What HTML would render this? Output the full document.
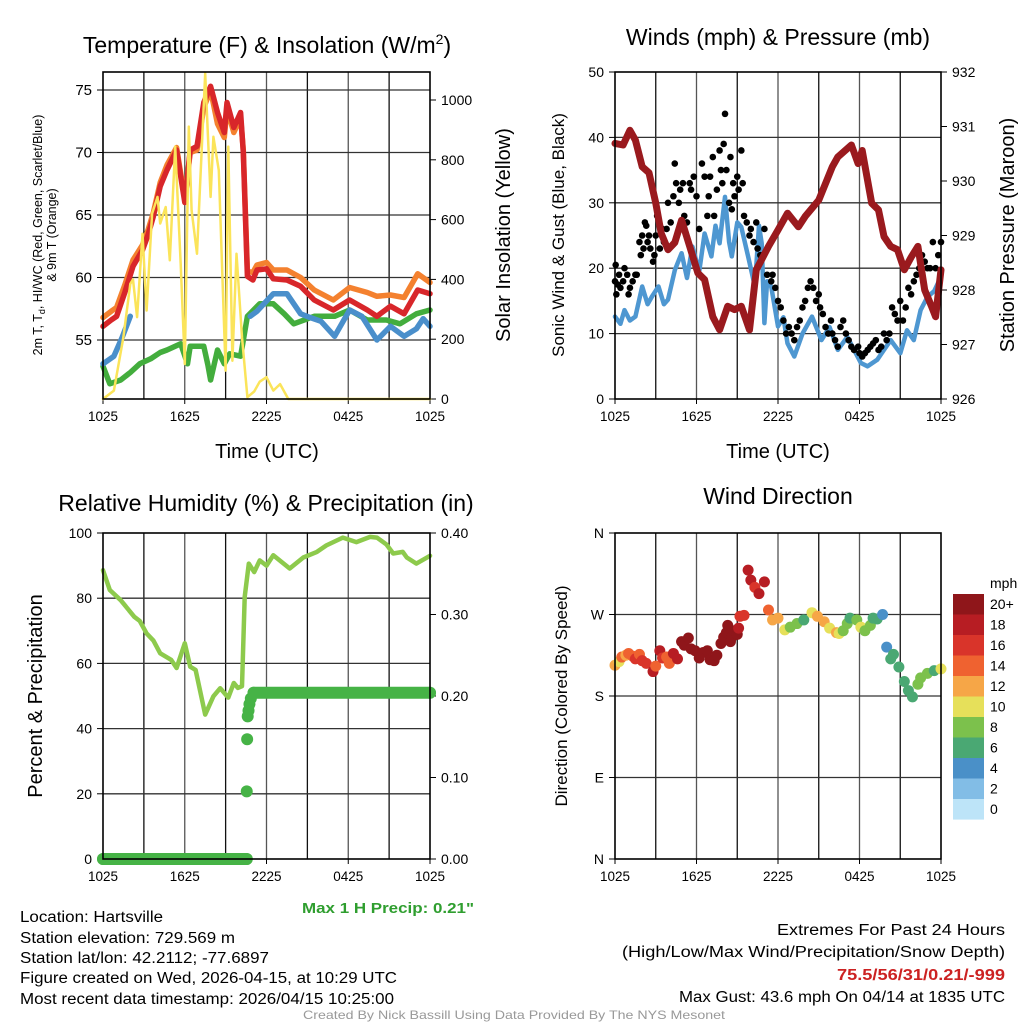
<!DOCTYPE html>
<html><head><meta charset="utf-8"><style>
body{margin:0;background:#fff;}
svg{display:block;font-family:"Liberation Sans",sans-serif;}
</style></head><body>
<svg id="s" width="1024" height="1024" viewBox="0 0 1024 1024">
<g id="static">
<text x="267" y="53" font-size="23" text-anchor="middle">Temperature (F) &amp; Insolation (W/m<tspan font-size="14" dy="-9">2</tspan><tspan dy="9">)</tspan></text>
<text x="778" y="45" font-size="23" text-anchor="middle">Winds (mph) &amp; Pressure (mb)</text>
<text x="266" y="511" font-size="23" text-anchor="middle">Relative Humidity (%) &amp; Precipitation (in)</text>
<text x="778" y="504" font-size="23" text-anchor="middle">Wind Direction</text>
<text x="267" y="458" font-size="20" text-anchor="middle">Time (UTC)</text>
<text x="778" y="458" font-size="20" text-anchor="middle">Time (UTC)</text>
<g>
<text transform="translate(42,235) rotate(-90)" font-size="12.5" text-anchor="middle">2m T, T<tspan font-size="9" dy="3">d</tspan><tspan dy="-3">, HI/WC (Red, Green, Scarlet/Blue)</tspan></text>
<text transform="translate(56,235) rotate(-90)" font-size="12.5" text-anchor="middle">&amp; 9m T (Orange)</text>
</g>
<text transform="translate(510,235) rotate(-90)" font-size="20" text-anchor="middle">Solar Insolation (Yellow)</text>
<text transform="translate(564,235) rotate(-90)" font-size="17" text-anchor="middle">Sonic Wind &amp; Gust (Blue, Black)</text>
<text transform="translate(1014,235) rotate(-90)" font-size="20" text-anchor="middle">Station Pressure (Maroon)</text>
<text transform="translate(42,696) rotate(-90)" font-size="20" text-anchor="middle">Percent &amp; Precipitation</text>
<text transform="translate(567,696) rotate(-90)" font-size="17" text-anchor="middle">Direction (Colored By Speed)</text>
<text x="474" y="913" font-size="15" font-weight="bold" fill="#2f9e2f" text-anchor="end" textLength="172" lengthAdjust="spacingAndGlyphs">Max 1 H Precip: 0.21"</text>
<g font-size="15.5">
<text x="20" y="922" textLength="143" lengthAdjust="spacingAndGlyphs">Location: Hartsville</text>
<text x="20" y="943" textLength="215" lengthAdjust="spacingAndGlyphs">Station elevation: 729.569 m</text>
<text x="20" y="963" textLength="249" lengthAdjust="spacingAndGlyphs">Station lat/lon: 42.2112; -77.6897</text>
<text x="20" y="983" textLength="377" lengthAdjust="spacingAndGlyphs">Figure created on Wed, 2026-04-15, at 10:29 UTC</text>
<text x="20" y="1004" textLength="374" lengthAdjust="spacingAndGlyphs">Most recent data timestamp: 2026/04/15 10:25:00</text>
</g>
<g font-size="15.5" text-anchor="end">
<text x="1005" y="935" textLength="228" lengthAdjust="spacingAndGlyphs">Extremes For Past 24 Hours</text>
<text x="1005" y="957" textLength="383" lengthAdjust="spacingAndGlyphs">(High/Low/Max Wind/Precipitation/Snow Depth)</text>
<text x="1005" y="980" font-weight="bold" fill="#cc2222" textLength="168" lengthAdjust="spacingAndGlyphs">75.5/56/31/0.21/-999</text>
<text x="1005" y="1002" textLength="326" lengthAdjust="spacingAndGlyphs">Max Gust: 43.6 mph On 04/14 at 1835 UTC</text>
</g>
<text x="514" y="1019" font-size="12" fill="#999" text-anchor="middle" textLength="422" lengthAdjust="spacingAndGlyphs">Created By Nick Bassill Using Data Provided By The NYS Mesonet</text>
</g>
</svg>
<script>
// ---------- data ----------
const xTickLabels = ["1025","1625","2225","0425","1025"];
const tempTicks = [55,60,65,70,75];
const solarTicks = [0,200,400,600,800,1000];
const windTicks = [0,10,20,30,40,50];
const presTicks = [926,927,928,929,930,931,932];
const rhTicks = [0,20,40,60,80,100];
const precipTicks = ["0.00","0.10","0.20","0.30","0.40"];
const dirTicks = ["N","E","S","W","N"];

const redT = [0,0.6,1.0,1.6,2.2,2.9,3.3,3.7,4.2,4.7,5.4,6.0,6.4,6.9,7.4,7.9,8.4,8.9,9.1,9.6,10.1,10.3,10.6,11.0,11.3,12.0,12.5,13.5,14.5,15.5,16.9,18.1,19.4,20.1,21.1,22.1,23.1,24];
const redV = [56.1,56.6,56.9,58.8,60.9,62.2,63.4,64.9,67.3,68.6,70.2,66.0,70.2,70.5,74.0,75.3,73.2,71.6,74.0,72.0,73.2,70.0,60.1,59.8,60.6,60.7,59.9,59.8,59.3,58.2,57.4,58.2,57.4,56.9,57.7,57.1,59.0,58.7];
const orangeV = [56.8,57.3,57.6,59.4,61.4,62.6,63.8,65.2,67.6,69.0,70.4,66.3,70.0,70.2,73.6,75.0,72.3,71.2,73.5,71.6,72.8,70.2,60.5,60.4,61.0,61.2,60.6,60.6,60.0,59.0,58.2,59.2,58.8,58.5,58.6,58.4,60.3,59.6];
const greenT = [0,0.5,1.3,2.0,2.7,3.5,4.2,4.7,5.7,6.2,6.4,7.4,7.7,7.9,8.4,8.9,9.3,10.1,10.6,11.5,12.5,13.3,14.0,15.5,17.0,18.1,19.4,20.8,21.8,23.0,24];
const greenV = [52.9,51.5,51.8,52.4,53.1,53.5,54.0,54.2,54.7,53.1,54.5,54.5,53.0,51.8,54.2,53.1,53.9,53.7,56.9,57.9,57.9,57.1,56.3,56.9,56.9,57.4,56.6,56.6,56.3,57.1,57.4];
const blueT1 = [0,0.4,0.8,1.4,2.0];
const blueV1 = [53.1,53.4,53.7,55.2,56.9];
const blueT2 = [10.8,11.3,12.5,13.5,14.5,15.2,16.0,17.0,18.1,19.0,20.1,21.1,22.1,23.0,23.5,24];
const blueV2 = [56.9,57.3,58.7,58.7,57.1,56.8,56.5,55.3,57.4,56.9,55.0,56.1,55.3,55.9,56.7,56.1];
const solarT = [0,0.8,1.5,2.0,2.2,2.5,2.9,3.2,3.6,4.0,4.2,4.6,4.9,5.3,5.7,6.0,6.3,6.5,6.9,7.1,7.5,7.9,8.1,8.5,9.0,9.2,9.5,9.8,10.2,10.6,11.1,11.5,12.0,12.5,13.0,13.6,24];
const solarV = [0,28,207,385,400,274,553,296,620,676,587,642,464,844,452,117,911,631,486,687,1089,676,877,765,95,844,128,486,207,6,25,58,73,28,50,0,0];
const presT = [0,0.6,1.1,1.5,2.0,2.5,3.0,3.4,3.9,4.4,4.9,5.5,6.1,6.6,7.2,7.7,8.3,8.8,9.3,9.9,10.4,11.3,12.0,12.7,13.5,14.0,15.0,16.0,16.4,17.4,17.9,18.2,18.9,19.4,19.8,20.3,20.8,21.3,21.8,22.3,22.8,23.3,23.6,24];
const presV = [930.69,930.66,930.93,930.75,930.26,930.15,929.59,929.04,928.74,928.87,929.28,928.80,928.31,928.19,927.51,927.27,927.70,927.64,927.70,927.27,928.37,928.80,929.10,929.41,929.16,929.35,929.65,930.26,930.44,930.66,930.32,930.56,929.59,929.47,928.98,928.80,928.74,928.37,928.60,928.80,928.00,927.70,927.51,928.37];
const windT = [0,0.4,0.7,1.1,1.5,2.0,2.4,2.7,3.2,3.6,3.9,4.4,4.9,5.3,5.7,6.2,6.6,7.1,7.4,7.7,8.1,8.4,8.6,9.0,9.3,9.8,10.3,10.6,10.8,11.0,11.2,11.5,12.0,12.4,12.7,13.2,13.8,14.5,15.2,15.8,16.4,17.1,17.6,18.1,18.6,19.3,19.8,20.3,21.0,21.5,22.0,22.5,23.0,23.5,24];
const windV = [12.6,11.5,13.6,12.0,12.6,17.2,14.5,15.6,17.2,14.5,15.2,19.7,22.3,18.5,23.3,19.5,25.3,21.8,26.5,23.8,30.9,24.0,21.8,27.0,26.3,21.8,17.2,26.5,23.8,11.6,18.0,17.2,11.1,12.5,8.5,6.5,10.0,12.6,9.0,11.0,7.5,9.5,7.5,5.5,5.0,6.0,7.5,9.0,7.0,10.5,9.0,13.6,15.6,16.5,18.7];
const gustT = [0,0.05,0.1,0.2,0.3,0.4,0.6,0.7,0.9,1.0,1.1,1.3,1.5,1.6,1.8,1.9,2.0,2.1,2.2,2.3,2.4,2.5,2.6,2.8,2.9,3.0,3.1,3.3,3.5,3.6,3.8,3.9,4.1,4.3,4.4,4.5,4.7,4.8,5.0,5.1,5.3,5.5,5.6,5.8,6.0,6.2,6.4,6.6,6.8,6.9,7.0,7.2,7.3,7.5,7.7,7.8,7.9,8.0,8.1,8.2,8.4,8.5,8.6,8.7,8.8,9.0,9.1,9.3,9.4,9.5,9.7,9.9,10.0,10.2,10.4,10.5,10.7,11.0,11.2,11.5,11.6,11.8,12.0,12.2,12.4,12.6,12.8,13.0,13.2,13.4,13.6,13.8,14.0,14.2,14.4,14.6,14.8,15.0,15.1,15.3,15.5,15.7,15.9,16.0,16.2,16.4,16.6,16.8,17.0,17.2,17.4,17.6,17.9,18.0,18.2,18.4,18.6,18.8,19.0,19.2,19.4,19.6,19.8,20.0,20.2,20.4,20.6,20.8,21.0,21.2,21.4,21.6,21.8,22.0,22.2,22.4,22.6,22.8,23.0,23.2,23.4,23.6,23.8,24.0];
const gustV = [18,20.5,16,17.5,19,17,18,20,19,16,17,18,19,19,24,22,25,23,27,26.5,24,25,23,21,22,25,28,23,26,24,26,30,27,31,36,33,30,32,33,28,27,33,32,34,31,26,36,34,28,31,34,37,28,32,38,35,33,39,43.6,35,30,37,29,33,31,34,32,38,33,28,27,25,26,24,27,23,22,26,19,18,19,17,15,14,12,10,11,10,9,11,12,14,15,17,18,17,15,16,14,13,11,10,12,10,9,8,11,12,10,9,8,7.5,8,7,6.5,7,7.5,8,8.5,9,7.5,8,10,9,10,14,13,12,15,12,14,17,16,18,19,20,22,21,20,20,24,20,22,24];
const rhT = [0,0.5,1.3,2.3,2.7,3.2,3.7,4.2,5.0,5.4,6.0,6.4,6.8,7.5,8.1,8.6,9.2,9.6,9.9,10.2,10.4,10.7,11.1,11.5,12.0,12.5,13.0,13.7,14.7,15.7,16.4,17.6,18.6,19.6,20.1,20.8,21.3,22.0,22.3,23.0,24];
const rhV = [88.6,82.5,79.4,74.3,73.0,69.2,67.0,63.1,61.1,58.6,66.2,59.0,58.0,44.3,49.9,52.4,49.5,54.0,52.5,53.0,80.4,90.6,88.0,91.6,90.0,93.2,91.5,89.1,92.5,94.2,96.2,98.6,97.2,98.8,98.6,96.5,93.7,94.2,92.5,90.6,93.0];
const precipT = [0,10.55,10.55,10.58,10.62,10.68,10.75,10.85,11.05,24];
const precipV = [0,0,0.083,0.147,0.175,0.182,0.19,0.197,0.204,0.204];
const dirT = [0,0.3,0.5,0.8,1.0,1.3,1.5,1.8,2.0,2.3,2.8,3.0,3.3,3.5,3.8,4.0,4.3,4.6,4.9,5.1,5.4,5.6,5.9,6.2,6.5,6.8,7.0,7.3,7.5,7.8,8.0,8.2,8.3,8.4,8.5,8.6,8.8,9.0,9.1,9.2,9.5,9.8,10.0,10.3,10.6,11.0,11.3,11.6,12.0,12.5,12.9,13.4,13.9,14.5,14.9,15.4,15.8,16.3,16.5,16.8,17.1,17.3,17.8,18.1,18.4,18.8,19.0,19.3,19.7,20.0,20.3,20.5,20.9,21.3,21.6,21.9,22.3,22.5,23.0,23.5,24.0];
const dirV = [214,218,223,225,227,224,221,226,219,216,207,213,230,222,223,216,227,221,240,236,244,232,230,222,228,230,220,219,225,238,245,250,258,248,240,245,252,248,255,268,269,319,308,300,293,306,275,264,266,253,256,260,264,272,268,262,255,250,249,252,260,266,264,256,252,258,266,265,270,234,221,226,212,196,186,179,193,200,205,208,210,200,195,215,220,230];
const dirS = [12,11,14,13,14,15,16,15,16,16,18,14,18,16,14,15,19,18,20,20,21,20,20,21,20,21,20,20,20,22,21,20,20,20,21,20,20,20,18,16,17,18,18,16,18,18,14,12,12,10,8,8,7,10,12,12,10,12,11,8,8,6,8,10,8,9,7,6,5,4,6,6,6,6,6,6,8,8,8,6,10,10,14,14,16];
const cbLabels = ["20+","18","16","14","12","10","8","6","4","2","0"];
const cbColors = ["#8f161a","#b71d23","#d9342a","#ef6230","#f6a647","#e6e05a","#7cc14c","#4aa873","#4a90c8","#82bde6","#bde4f8"];

// ---------- helpers ----------
const NS = "http://www.w3.org/2000/svg";
const svg = document.getElementById("s");
function el(tag, attrs, parent){ const e=document.createElementNS(NS,tag); for(const k in attrs) e.setAttribute(k,attrs[k]); (parent||svg).appendChild(e); return e; }
function lin(d0,d1,r0,r1){ return v => r0+(v-d0)/(d1-d0)*(r1-r0); }

function panel(name,x0,x1,y0,y1){
  const g = el("g",{});
  
  
  const gx = el("g",{},g);
  
  
  for(let i=1;i<8;i++){ const x=x0+(x1-x0)*i/8; el("line",{x1:x,x2:x,y1:y0,y2:y1,stroke:i%2?"#111":"#555","stroke-width":1.3},gx); }
  const lab = el("g",{"font-size":13.5,"text-anchor":"middle"},g);
  
  
  xTickLabels.forEach((s,i)=>{ const x=x0+(x1-x0)*i/4; el("line",{x1:x,x2:x,y1:y1,y2:y1+5,stroke:"#000"},lab); const t=el("text",{x:x,y:y1+22},lab); t.textContent=s; });
  return {g, x:lin(0,24,x0,x1), x0,x1,y0,y1};
}
function frame(p){ el("rect",{x:p.x0,y:p.y0,width:p.x1-p.x0,height:p.y1-p.y0,fill:"none",stroke:"#000","stroke-width":1.6},p.g); }
function hgrid(p, ys){ ys.forEach(y=>el("line",{x1:p.x0,x2:p.x1,y1:y,y2:y,stroke:"#333","stroke-width":1.3},p.g)); }
function yticks(p, vals, labels, scale, side, name, fs){
  const g = el("g",{"font-size":fs||14,"text-anchor":side==="left"?"end":"start"},p.g);
  
  
  vals.forEach((v,i)=>{ const y=scale(v); const x=side==="left"?p.x0:p.x1;
    el("line",{x1:x,x2:side==="left"?x-6:x+6,y1:y,y2:y,stroke:"#000"},g);
    const t=el("text",{x:side==="left"?x-11:x+11,y:y+5},g); t.textContent=labels[i]; });
}
function line(p, ts, vs, ys, color, w, name){
  const pts = ts.map((t,i)=>p.x(t).toFixed(1)+","+ys(vs[i]).toFixed(1)).join(" ");
  const e = el("polyline",{points:pts,fill:"none",stroke:color,"stroke-width":w,"stroke-linejoin":"round","stroke-linecap":"round"},p.g);
  
  
  return e;
}

// ---------- panel 1 ----------
const p1 = panel("temperature-panel",103,430,72,399);
const yT = lin(55,75,340,90), yS = lin(0,1000,399,100);
hgrid(p1, tempTicks.map(yT));
yticks(p1,tempTicks,tempTicks.map(String),yT,"left","temperature-y-ticks",15);
yticks(p1,solarTicks,solarTicks.map(String),yS,"right","insolation-y-ticks",14);
line(p1,redT,orangeV,yT,"#f4812f",5.5,"temp-9m-orange-line");
line(p1,greenT,greenV,yT,"#43ad3d",5.5,"dewpoint-green-line");
line(p1,blueT1,blueV1,yT,"#4a8fcb",5.5,"heat-index-blue-line-a");
line(p1,blueT2,blueV2,yT,"#4a8fcb",5.5,"heat-index-blue-line-b");
line(p1,redT,redV,yT,"#d8262a",5.5,"temp-2m-red-line");
line(p1,solarT,solarV,yS,"#fbe45a",2.5,"insolation-yellow-line");
frame(p1);

// ---------- panel 2 ----------
const p2 = panel("winds-panel",615,941,72,399);
const yW = lin(0,50,399,72), yP = lin(926,932,399,72);
hgrid(p2, windTicks.slice(1,5).map(yW));
yticks(p2,windTicks,windTicks.map(String),yW,"left","wind-y-ticks",14);
yticks(p2,presTicks,presTicks.map(String),yP,"right","pressure-y-ticks",14);
line(p2,windT,windV,yW,"#4e97d1",4.5,"sonic-wind-blue-line");
const gg = el("g",{},p2.g);


gustT.forEach((t,i)=>{ const c=el("circle",{cx:p2.x(t),cy:yW(gustV[i]),r:3.3,fill:"#000"},gg);
  
   });
line(p2,presT,presV,yP,"#9a1a1e",7,"pressure-maroon-line");
frame(p2);

// ---------- panel 3 ----------
const p3 = panel("humidity-panel",103,430,533,859);
const yR = lin(0,100,859,533), yPr = lin(0,0.4,859,533);
hgrid(p3, [20,40,60,80].map(yR));
yticks(p3,rhTicks,rhTicks.map(String),yR,"left","humidity-y-ticks",14);
yticks(p3,precipTicks.map(Number),precipTicks,yPr,"right","precip-y-ticks",14);
line(p3,rhT,rhV,yR,"#8dca4c",4.5,"humidity-line");
const pg = el("g",{},p3.g);


for(let i=0;i<precipT.length;i++){
  if(i>0 && precipV[i]===precipV[i-1]) el("line",{x1:p3.x(precipT[i-1]),x2:p3.x(precipT[i]),y1:yPr(precipV[i]),y2:yPr(precipV[i]),stroke:"#46b346","stroke-width":12,"stroke-linecap":"round"},pg);
  const c=el("circle",{cx:p3.x(precipT[i]),cy:yPr(precipV[i]),r:6,fill:"#46b346"},pg);
  
  
}
frame(p3);

// ---------- panel 4 ----------
const p4 = panel("wind-direction-panel",615,941,533,859);
const yD = lin(0,360,859,533);
hgrid(p4, [90,180,270].map(yD));
yticks(p4,[0,90,180,270,360],dirTicks,yD,"left","direction-y-ticks",14);
const dg = el("g",{},p4.g);


function speedColor(s){ const b=Math.min(10,Math.floor(s/2)); return cbColors[10-b]; }
dirT.forEach((t,i)=>{ const c=el("circle",{cx:p4.x(t),cy:yD(dirV[i]),r:5.5,fill:speedColor(dirS[i])},dg);
  
   });
frame(p4);

// colorbar
const cb = el("g",{"font-size":14});


const cbt = el("text",{x:990,y:588},cb); cbt.textContent="mph";
cbColors.forEach((c,i)=>{ const y=594+i*20.5;
  const r=el("rect",{x:953,y:y,width:31,height:20.6,fill:c},cb);
  
  
  const t=el("text",{x:990,y:y+15},cb); t.textContent=cbLabels[i]; });
</script>
</body></html>
